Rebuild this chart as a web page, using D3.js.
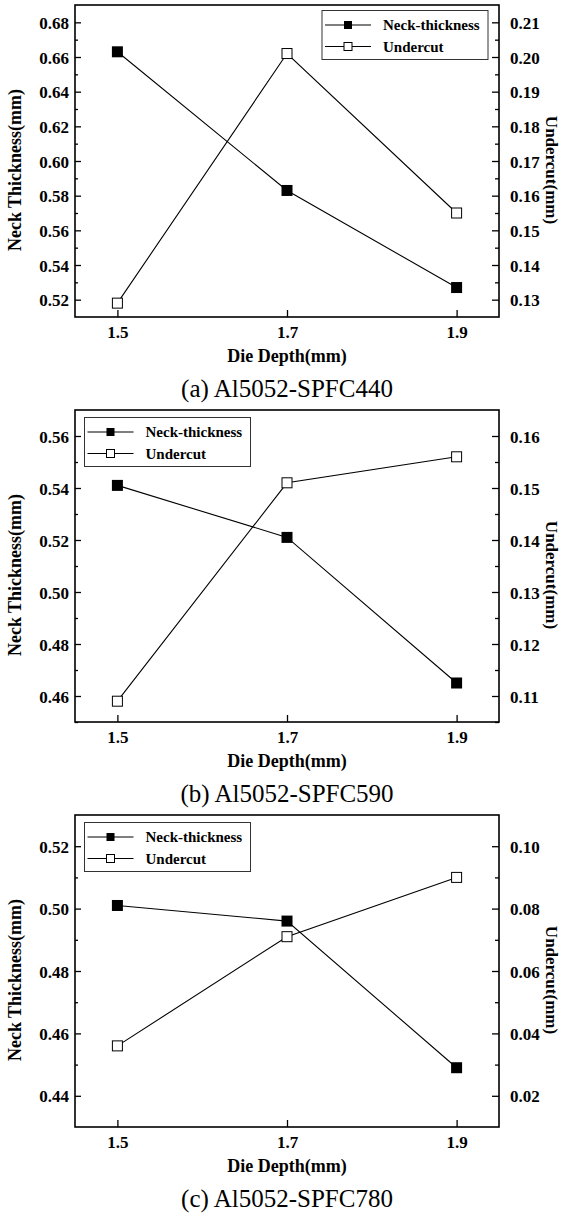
<!DOCTYPE html>
<html>
<head>
<meta charset="utf-8">
<script src="https://cdn.jsdelivr.net/npm/d3@7"></script>
<style>
  body { margin: 0; background: #fff; }
  svg { display: block; }
  text { font-family: "Liberation Serif", "Times New Roman", serif; fill: #000; }
  .tick text { font-weight: bold; font-size: 17px; }
</style>
</head>
<body>
<svg id="chart" width="564" height="1214"></svg>
<script>
// die depth (x) shared by all panels
var depths = [1.5, 1.7, 1.9];
var xTicks = [1.5, 1.7, 1.9];

// (a) Al5052-SPFC440
var neckA = [0.663, 0.583, 0.527];
var undercutA = [0.129, 0.201, 0.155];
var neckTicksA = [0.52, 0.54, 0.56, 0.58, 0.60, 0.62, 0.64, 0.66, 0.68];
var cutTicksA = [0.13, 0.14, 0.15, 0.16, 0.17, 0.18, 0.19, 0.20, 0.21];

// (b) Al5052-SPFC590
var neckB = [0.541, 0.521, 0.465];
var undercutB = [0.109, 0.151, 0.156];
var neckTicksB = [0.46, 0.48, 0.50, 0.52, 0.54, 0.56];
var cutTicksB = [0.11, 0.12, 0.13, 0.14, 0.15, 0.16];

// (c) Al5052-SPFC780
var neckC = [0.501, 0.496, 0.449];
var undercutC = [0.036, 0.071, 0.090];
var neckTicksC = [0.44, 0.46, 0.48, 0.50, 0.52];
var cutTicksC = [0.02, 0.04, 0.06, 0.08, 0.10];

var captions = ["(a) Al5052-SPFC440", "(b) Al5052-SPFC590", "(c) Al5052-SPFC780"];
var seriesNames = ["Neck-thickness", "Undercut"];

var panels = [
  { neck: neckA, cut: undercutA, neckTicks: neckTicksA, cutTicks: cutTicksA,
    neckDomain: [0.51, 0.69], cutDomain: [0.125, 0.215], legend: "right" },
  { neck: neckB, cut: undercutB, neckTicks: neckTicksB, cutTicks: cutTicksB,
    neckDomain: [0.45, 0.57], cutDomain: [0.105, 0.165], legend: "left" },
  { neck: neckC, cut: undercutC, neckTicks: neckTicksC, cutTicks: cutTicksC,
    neckDomain: [0.43, 0.53], cutDomain: [0.01, 0.11], legend: "left" }
];

var svg = d3.select("#chart");
var plotLeft = 75, plotRight = 499, plotH = 312, panelStep = 405, firstTop = 5;
var markerSize = 10;
var serif = "'Liberation Serif', 'Times New Roman', serif";

// minor ticks halfway between majors
function minors(ticks) {
  var out = [];
  var step = ticks[1] - ticks[0];
  out.push(ticks[0] - step / 2);
  for (var i = 0; i < ticks.length; i++) out.push(ticks[i] + step / 2);
  return out;
}

panels.forEach(function (p, idx) {
  var top = firstTop + idx * panelStep;
  var g = svg.append("g").attr("transform", "translate(0," + top + ")");
  var w = plotRight - plotLeft;

  var x = d3.scaleLinear().domain([1.45, 1.95]).range([plotLeft, plotRight]);
  var yL = d3.scaleLinear().domain(p.neckDomain).range([plotH, 0]);
  var yR = d3.scaleLinear().domain(p.cutDomain).range([plotH, 0]);

  var fmt = d3.format(".2f");

  // axes (ticks pointing inward)
  var gl = g.append("g").attr("transform", "translate(" + plotLeft + ",0)")
    .call(d3.axisLeft(yL).tickValues(p.neckTicks).tickFormat(fmt).tickSize(-6).tickPadding(6));
  g.append("g").attr("transform", "translate(" + plotLeft + ",0)")
    .call(d3.axisLeft(yL).tickValues(minors(p.neckTicks).filter(function (v) {
      return v > p.neckDomain[0] && v < p.neckDomain[1]; })).tickFormat("").tickSize(-3));
  var gr = g.append("g").attr("transform", "translate(" + plotRight + ",0)")
    .call(d3.axisRight(yR).tickValues(p.cutTicks).tickFormat(fmt).tickSize(-7).tickPadding(11));
  g.append("g").attr("transform", "translate(" + plotRight + ",0)")
    .call(d3.axisRight(yR).tickValues(minors(p.cutTicks).filter(function (v) {
      return v > p.cutDomain[0] && v < p.cutDomain[1]; })).tickFormat("").tickSize(-4));
  var gb = g.append("g").attr("transform", "translate(0," + plotH + ")")
    .call(d3.axisBottom(x).tickValues(xTicks).tickFormat(d3.format(".1f")).tickSize(-7).tickPadding(9));

  [gl, gr, gb].forEach(function (a) {
    a.attr("font-family", serif).attr("font-size", 17).attr("font-weight", "bold");
  });
  g.selectAll(".domain").remove();
  g.selectAll(".tick line").attr("stroke", "#000").attr("stroke-width", 1.3);
  gl.selectAll(".tick text").attr("dy", "0.36em");
  gr.selectAll(".tick text").attr("dy", "0.36em");

  // frame
  g.append("rect")
    .attr("x", plotLeft).attr("y", 0)
    .attr("width", w).attr("height", plotH)
    .attr("fill", "none").attr("stroke", "#000").attr("stroke-width", 1.6);

  // data lines
  var lineL = d3.line().x(function (d, i) { return x(depths[i]); }).y(function (d) { return yL(d); });
  var lineR = d3.line().x(function (d, i) { return x(depths[i]); }).y(function (d) { return yR(d); });
  g.append("path").attr("d", lineL(p.neck)).attr("fill", "none").attr("stroke", "#000").attr("stroke-width", 1.1);
  g.append("path").attr("d", lineR(p.cut)).attr("fill", "none").attr("stroke", "#000").attr("stroke-width", 1.1);

  g.selectAll(".mk-neck").data(p.neck).enter().append("rect")
    .attr("x", function (d, i) { return x(depths[i]) - markerSize / 2 - 0.5; })
    .attr("y", function (d) { return yL(d) - markerSize / 2 - 0.5; })
    .attr("width", markerSize + 1).attr("height", markerSize + 1)
    .attr("fill", "#000");
  g.selectAll(".mk-cut").data(p.cut).enter().append("rect")
    .attr("x", function (d, i) { return x(depths[i]) - markerSize / 2; })
    .attr("y", function (d) { return yR(d) - markerSize / 2; })
    .attr("width", markerSize).attr("height", markerSize)
    .attr("fill", "#fff").attr("stroke", "#000").attr("stroke-width", 1);

  // legend
  var lx = p.legend === "right" ? plotRight - 177 : plotLeft + 9.5;
  var ly = p.legend === "right" ? 5.5 : 7.5;
  var lg = g.append("g").attr("transform", "translate(" + lx + "," + ly + ")");
  lg.append("rect").attr("width", 166).attr("height", 49)
    .attr("fill", "#fff").attr("stroke", "#333").attr("stroke-width", 1);
  seriesNames.forEach(function (name, k) {
    var ry = 14.5 + k * 21.5;
    lg.append("line").attr("x1", 3).attr("x2", 49).attr("y1", ry).attr("y2", ry)
      .attr("stroke", "#000").attr("stroke-width", 1.1);
    var ms = 8;
    lg.append("rect").attr("x", 26 - ms / 2).attr("y", ry - ms / 2)
      .attr("width", ms).attr("height", ms)
      .attr("fill", k === 0 ? "#000" : "#fff")
      .attr("stroke", "#000").attr("stroke-width", k === 0 ? 0 : 1);
    lg.append("text").attr("x", 61).attr("y", ry).attr("dy", "0.35em")
      .attr("font-size", 15).attr("font-weight", "bold").text(name);
  });

  // axis titles
  var cx = (plotLeft + plotRight) / 2;
  g.append("text").attr("x", cx).attr("y", plotH + 45)
    .attr("text-anchor", "middle").attr("font-size", 18).attr("font-weight", "bold")
    .text("Die Depth(mm)");
  g.append("text")
    .attr("transform", "translate(21," + (plotH / 2 + 9) + ") rotate(-90)")
    .attr("text-anchor", "middle").attr("font-size", 18).attr("font-weight", "bold")
    .text("Neck Thickness(mm)");
  g.append("text")
    .attr("transform", "translate(546," + (plotH / 2 + 9) + ") rotate(90)")
    .attr("text-anchor", "middle").attr("font-size", 17).attr("font-weight", "bold")
    .text("Undercut(mm)");

  // caption
  g.append("text").attr("x", cx).attr("y", plotH + 80)
    .attr("text-anchor", "middle").attr("font-size", 25)
    .text(captions[idx]);
});
</script>
</body>
</html>
